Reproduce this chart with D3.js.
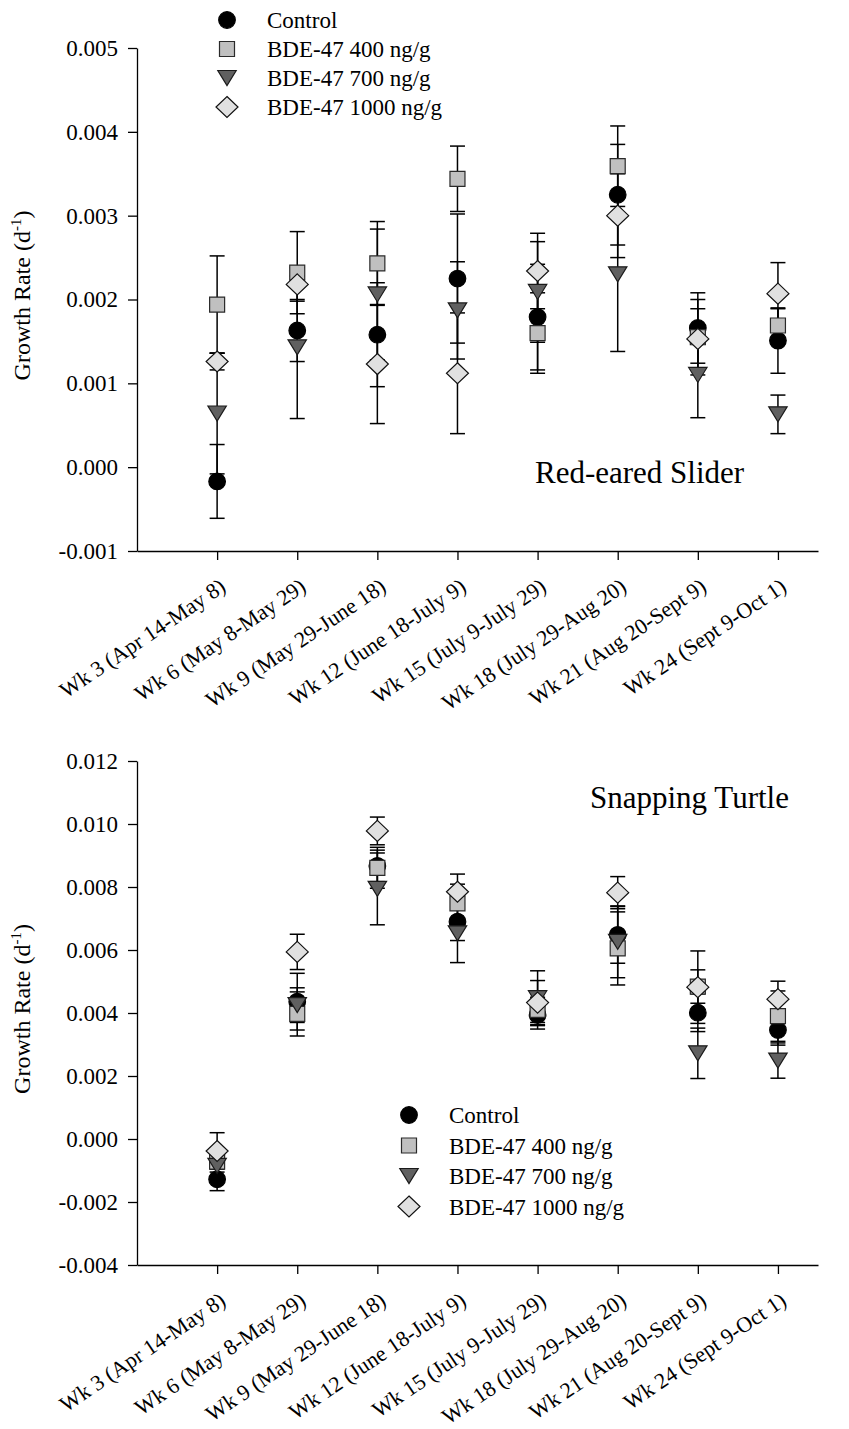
<!DOCTYPE html>
<html>
<head>
<meta charset="utf-8">
<script src="https://cdn.jsdelivr.net/npm/d3@7"></script>
<style>
  html, body { margin: 0; padding: 0; background: #fff; }
  svg { display: block; }
  svg text { font-family: "Liberation Serif", "Times New Roman", serif !important; fill: #000; }
</style>
</head>
<body>
<svg id="chart" width="849" height="1429"></svg>
<script>
// Sampling periods (x categories)
const weeks = [
  "Wk 3 (Apr 14-May 8)", "Wk 6 (May 8-May 29)", "Wk 9 (May 29-June 18)",
  "Wk 12 (June 18-July 9)", "Wk 15 (July 9-July 29)", "Wk 18 (July 29-Aug 20)",
  "Wk 21 (Aug 20-Sept 9)", "Wk 24 (Sept 9-Oct 1)"
];
const treatments = ["Control", "BDE-47 400 ng/g", "BDE-47 700 ng/g", "BDE-47 1000 ng/g"];

// Red-eared slider growth rates (d^-1) and standard errors
const sliderControl   = [-0.00017, 0.00163, 0.00158, 0.00225, 0.00179, 0.00325, 0.00166, 0.00151];
const sliderControlSE = [0.00044, 0.00037, 0.00062, 0.00077, 0.00063, 0.00060, 0.00042, 0.00039];
const slider400       = [0.00194, 0.00232, 0.00243, 0.00344, 0.00160, 0.00359, 0.00155, 0.00169];
const slider400SE     = [0.00058, 0.00049, 0.00050, 0.00039, 0.00048, 0.00048, 0.00045, 0.00020];
const slider700       = [0.00064, 0.00143, 0.00206, 0.00187, 0.00209, 0.00230, 0.00110, 0.00063];
const slider700SE     = [0.00072, 0.00085, 0.00078, 0.00058, 0.00060, 0.00092, 0.00051, 0.00023];
const slider1000      = [0.00126, 0.00218, 0.00123, 0.00112, 0.00234, 0.00300, 0.00153, 0.00207];
const slider1000SE    = [0.00010, 0.00020, 0.00071, 0.00072, 0.00045, 0.00050, 0.00036, 0.00037];

// Snapping turtle growth rates (d^-1) and standard errors
const snapControl   = [-0.00128, 0.00436, 0.00867, 0.00690, 0.00394, 0.00648, 0.00401, 0.00346];
const snapControlSE = [0.00036, 0.00090, 0.00050, 0.00060, 0.00045, 0.00090, 0.00060, 0.00048];
const snap400       = [-0.00072, 0.00397, 0.00861, 0.00748, 0.00410, 0.00605, 0.00484, 0.00390];
const snap400SE     = [0.00020, 0.00070, 0.00065, 0.00061, 0.00040, 0.00116, 0.00053, 0.00080];
const snap700       = [-0.00085, 0.00425, 0.00794, 0.00653, 0.00447, 0.00626, 0.00272, 0.00249];
const snap700SE     = [0.00020, 0.00055, 0.00114, 0.00093, 0.00087, 0.00114, 0.00080, 0.00056];
const snap1000      = [-0.00038, 0.00594, 0.00978, 0.00785, 0.00433, 0.00782, 0.00482, 0.00444];
const snap1000SE    = [0.00058, 0.00056, 0.00044, 0.00056, 0.00070, 0.00051, 0.00115, 0.00057];

// Axis tick values
const sliderTicks = [-0.001, 0.000, 0.001, 0.002, 0.003, 0.004, 0.005];
const snapTicks   = [-0.004, -0.002, 0.000, 0.002, 0.004, 0.006, 0.008, 0.010, 0.012];

// Symbol styles per treatment
const symbolStyle = [
  { shape: "circle",   fill: "#000000", stroke: "#000000" },
  { shape: "square",   fill: "#c0c0c0", stroke: "#2a2a2a" },
  { shape: "triangle", fill: "#606060", stroke: "#1a1a1a" },
  { shape: "diamond",  fill: "#e0e0e0", stroke: "#111111" }
];

const SERIF = '"Liberation Serif", "Times New Roman", serif';
const svg = d3.select("#chart");

function symbolPath(shape, cx, cy) {
  const p = d3.path();
  if (shape === "circle") {
    p.moveTo(cx + 8.3, cy);
    p.arc(cx, cy, 8.3, 0, 2 * Math.PI);
  } else if (shape === "square") {
    p.rect(cx - 7.5, cy - 7.5, 15, 15);
  } else if (shape === "triangle") {
    p.moveTo(cx - 9.2, cy - 7.5);
    p.lineTo(cx + 9.2, cy - 7.5);
    p.lineTo(cx, cy + 7.5);
    p.closePath();
  } else {
    p.moveTo(cx, cy - 10.5);
    p.lineTo(cx + 11, cy);
    p.lineTo(cx, cy + 10.5);
    p.lineTo(cx - 11, cy);
    p.closePath();
  }
  return p.toString();
}

function drawPanel(cfg) {
  const x = d3.scaleLinear().domain([0, 8.5]).range([137, 818]);
  const y = d3.scaleLinear().domain(cfg.domain).range([cfg.bottom, cfg.top]);
  const g = svg.append("g").style("font-family", SERIF);

  // y axis
  const ya = g.append("g")
    .attr("transform", "translate(137,0)")
    .call(d3.axisLeft(y).tickValues(cfg.ticks).tickSize(9).tickSizeOuter(0).tickPadding(10)
      .tickFormat(d => d.toFixed(3)));
  ya.attr("font-family", null).style("font-family", SERIF);
  ya.select(".domain").attr("stroke", "#000").attr("stroke-width", 1.3);
  ya.selectAll(".tick line").attr("stroke", "#000").attr("stroke-width", 1.3);
  ya.selectAll(".tick text").attr("font-size", 23).style("font-family", SERIF);

  // x axis
  const xa = g.append("g")
    .attr("transform", `translate(0,${cfg.bottom})`)
    .call(d3.axisBottom(x).tickValues(d3.range(1, weeks.length + 1)).tickSize(9).tickSizeOuter(0)
      .tickFormat(""));
  xa.select(".domain").attr("stroke", "#000").attr("stroke-width", 1.3);
  xa.selectAll(".tick line").attr("stroke", "#000").attr("stroke-width", 1.3);

  g.selectAll("text.xlab").data(weeks).join("text")
    .attr("class", "xlab")
    .attr("font-size", 22)
    .attr("text-anchor", "end")
    .attr("transform", (d, i) => `translate(${x(i + 1) + 10},${cfg.bottom + 39}) rotate(-34)`)
    .text(d => d);

  // y axis title with superscript
  const yt = g.append("text")
    .attr("font-size", 24)
    .attr("text-anchor", "middle")
    .attr("transform", `translate(30,${(cfg.top + cfg.bottom) / 2 - 4}) rotate(-90)`);
  yt.append("tspan").text("Growth Rate (d");
  yt.append("tspan").attr("font-size", 15).attr("dy", -9).text("-1");
  yt.append("tspan").attr("dy", 9).text(")");

  // error bars
  cfg.series.forEach((s) => {
    const eb = g.append("g").attr("stroke", "#000").attr("stroke-width", 1.5).attr("fill", "none");
    s.values.forEach((v, i) => {
      const cx = x(i + 1);
      const y1 = y(v + s.se[i]), y0 = y(v - s.se[i]);
      eb.append("line").attr("x1", cx).attr("x2", cx).attr("y1", y1).attr("y2", y0);
      eb.append("line").attr("x1", cx - 7.5).attr("x2", cx + 7.5).attr("y1", y1).attr("y2", y1);
      eb.append("line").attr("x1", cx - 7.5).attr("x2", cx + 7.5).attr("y1", y0).attr("y2", y0);
    });
  });

  // symbols
  cfg.series.forEach((s, k) => {
    const st = symbolStyle[k];
    g.append("g").selectAll("path").data(s.values).join("path")
      .attr("d", (v, i) => symbolPath(st.shape, x(i + 1), y(v)))
      .attr("fill", st.fill)
      .attr("stroke", st.stroke)
      .attr("stroke-width", 1.2);
  });

  // panel title
  g.append("text")
    .attr("x", cfg.titleX).attr("y", cfg.titleY)
    .attr("font-size", 31)
    .text(cfg.title);

  // legend
  const lg = g.append("g");
  treatments.forEach((t, k) => {
    const ry = cfg.legendY + k * cfg.legendStep;
    const st = symbolStyle[k];
    lg.append("path")
      .attr("d", symbolPath(st.shape, cfg.legendX, ry))
      .attr("fill", st.fill).attr("stroke", st.stroke).attr("stroke-width", 1.2);
    lg.append("text")
      .attr("x", cfg.legendX + 40).attr("y", ry)
      .attr("dy", "0.35em")
      .attr("font-size", 23)
      .text(t);
  });
}

drawPanel({
  top: 48, bottom: 551, domain: [-0.001, 0.005], ticks: sliderTicks,
  series: [
    { values: sliderControl, se: sliderControlSE },
    { values: slider400, se: slider400SE },
    { values: slider700, se: slider700SE },
    { values: slider1000, se: slider1000SE }
  ],
  title: "Red-eared Slider", titleX: 535, titleY: 483,
  legendX: 227, legendY: 20, legendStep: 29
});

drawPanel({
  top: 761, bottom: 1265, domain: [-0.004, 0.012], ticks: snapTicks,
  series: [
    { values: snapControl, se: snapControlSE },
    { values: snap400, se: snap400SE },
    { values: snap700, se: snap700SE },
    { values: snap1000, se: snap1000SE }
  ],
  title: "Snapping Turtle", titleX: 590, titleY: 808,
  legendX: 409, legendY: 1115, legendStep: 30.5
});
</script>
</body>
</html>
